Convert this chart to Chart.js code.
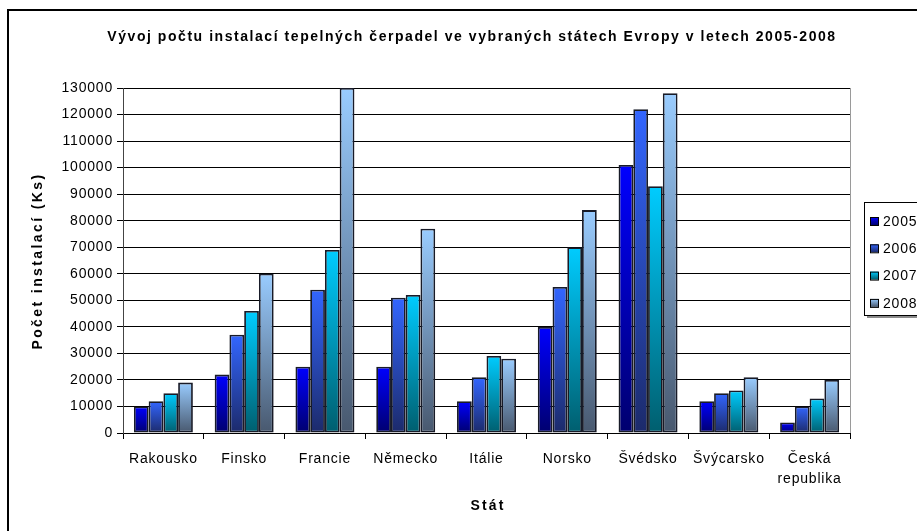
<!DOCTYPE html>
<html><head><meta charset="utf-8">
<script src="https://cdn.jsdelivr.net/npm/chart.js@4/dist/chart.umd.min.js"></script>
<style>html,body{margin:0;padding:0;background:#fff;overflow:hidden}</style>
</head><body>
<canvas id="c" width="917" height="531" style="display:block;width:917px;height:531px"></canvas>
<script>
const categories = ['Rakousko','Finsko','Francie','Německo','Itálie','Norsko','Švédsko','Švýcarsko',['Česká','republika']];
const years = ['2005','2006','2007','2008'];
const v2005 = [10000,22000,25000,25000,12000,40000,101000,12000,4000];
const v2006 = [12000,37000,54000,51000,21000,55000,122000,15000,10000];
const v2007 = [15000,46000,69000,52000,29000,70000,93000,16000,13000];
const v2008 = [19000,60000,130000,77000,28000,84000,128000,21000,20000];
const yMin = 0, yMax = 130000, yStep = 10000;
const chartTitle = 'Vývoj počtu instalací tepelných čerpadel ve vybraných státech Evropy v letech 2005-2008';
const xTitle = 'Stát';
const yTitle = 'Počet instalací (Ks)';

const topColors = ['#0000ff','#3366ff','#00ccff','#99ccff'];
const bottomColors = ['#00006e','#1c2a6a','#005e6e','#48586e'];

const FONT = 'Liberation Sans, Arial, sans-serif';
const SPACING = '0.8px';

function grad(i){
  return (ctx) => {
    const c = ctx.chart;
    if (!c.chartArea || ctx.type !== 'data') return topColors[i];
    const ys = c.scales.y;
    const y0 = ys.getPixelForValue(ctx.raw), y1 = ys.getPixelForValue(0);
    if (y1 - y0 < 1) return topColors[i];
    const g = c.ctx.createLinearGradient(0, y0, 0, y1);
    g.addColorStop(0, topColors[i]);
    g.addColorStop(1, bottomColors[i]);
    return g;
  };
}

const series = [v2005, v2006, v2007, v2008];
const datasets = series.map((d, i) => ({
  label: years[i],
  data: d,
  backgroundColor: grad(i),
  borderColor: '#181b28',
  borderWidth: 1.8,
  borderSkipped: false,
  barPercentage: 1,
  categoryPercentage: 0.73
}));

const spacingPlugin = {
  id: 'spacing',
  beforeLayout(chart){ chart.ctx.letterSpacing = SPACING; },
  beforeDraw(chart){ chart.ctx.letterSpacing = SPACING; }
};

const framePlugin = {
  id: 'frame',
  beforeDraw(chart){
    const ctx = chart.ctx;
    ctx.save();
    ctx.fillStyle = '#fff';
    ctx.fillRect(0,0,chart.width,chart.height);
    ctx.strokeStyle = '#000';
    ctx.lineWidth = 2;
    ctx.strokeRect(8, 10, 1200, 1200);
    ctx.restore();
  },
  afterDraw(chart){
    const ctx = chart.ctx, a = chart.chartArea;
    ctx.save();
    ctx.strokeStyle = '#9a9a9a';
    ctx.lineWidth = 1;
    ctx.beginPath();
    ctx.moveTo(Math.round(a.right)+0.5, a.top);
    ctx.lineTo(Math.round(a.right)+0.5, a.bottom);
    ctx.stroke();

    // titles
    ctx.fillStyle = '#000';
    ctx.textAlign = 'center';
    ctx.textBaseline = 'middle';
    ctx.font = 'bold 14px ' + FONT;
    ctx.letterSpacing = '1.55px';
    ctx.fillText(chartTitle, 472, 37);
    ctx.letterSpacing = '2.1px';
    ctx.fillText(xTitle, 488, 506);
    ctx.save();
    ctx.translate(38, 261);
    ctx.rotate(-Math.PI/2);
    ctx.letterSpacing = '2.4px';
    ctx.fillText(yTitle, 0, 0);
    ctx.restore();

    // legend
    ctx.textAlign = 'left';
    ctx.letterSpacing = SPACING;
    const lx = 864, ly = 202, lw = 80, lh = 113;
    ctx.fillStyle = '#8a8a8a';
    ctx.fillRect(lx+3, ly+3, lw, lh);
    ctx.fillStyle = '#fff';
    ctx.fillRect(lx, ly, lw, lh);
    ctx.strokeStyle = '#000';
    ctx.lineWidth = 1;
    ctx.strokeRect(lx+0.5, ly+0.5, lw, lh);
    ctx.font = '14px ' + FONT;
    ctx.textBaseline = 'middle';
    chart.data.datasets.forEach((ds, i) => {
      const cy = 221 + i*27.3;
      const g = ctx.createLinearGradient(0, cy-4, 0, cy+4);
      g.addColorStop(0, topColors[i]); g.addColorStop(1, bottomColors[i]);
      ctx.fillStyle = g;
      ctx.fillRect(870, cy-4, 8, 8);
      ctx.strokeStyle = '#000';
      ctx.strokeRect(870.5, cy-3.5, 8, 8);
      ctx.fillStyle = '#000';
      ctx.fillText(ds.label, 883, cy+1);
    });
    ctx.restore();
  }
};

new Chart(document.getElementById('c'), {
  type: 'bar',
  data: { labels: categories, datasets },
  plugins: [spacingPlugin, framePlugin],
  options: {
    responsive: false,
    animation: false,
    events: [],
    layout: { padding: { left: 20, right: 67, top: 88, bottom: 10 } },
    plugins: {
      legend: { display: false },
      tooltip: { enabled: false },
      title: { display: false }
    },
    scales: {
      x: {
        grid: { display: true, drawOnChartArea: false, drawTicks: true, tickLength: 6, color: '#000', offset: true },
        border: { display: true, color: '#000', width: 1 },
        ticks: { color: '#000', font: { family: FONT, size: 14, lineHeight: 1.45 }, padding: 10, maxRotation: 0, autoSkip: false },
        title: { display: false },
        afterFit(s){ s.height = 88; }
      },
      y: {
        min: yMin, max: yMax,
        grid: { color: '#000', lineWidth: 1, tickLength: 6, drawTicks: true },
        border: { display: true, color: '#444', width: 1 },
        ticks: { stepSize: yStep, color: '#000', font: { family: FONT, size: 14 }, padding: 4, callback: v => String(v) },
        title: { display: false },
        afterFit(s){ s.width = 103; }
      }
    }
  }
});
</script>
</body></html>
